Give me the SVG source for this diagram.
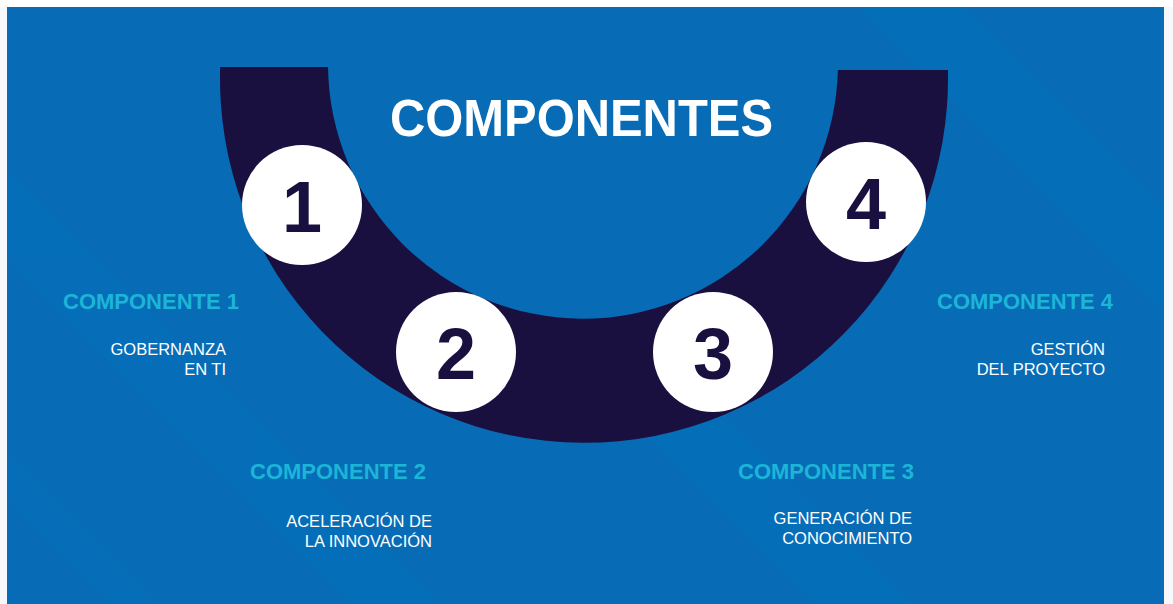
<svg xmlns="http://www.w3.org/2000/svg" width="1173" height="604" viewBox="0 0 1173 604">
  <style>
    .num { font-family: "Liberation Sans", Arial, sans-serif; font-weight: bold; font-size: 72px; fill: #1a1040; text-anchor: middle; }
    .ctitle { font-family: "Liberation Sans", Arial, sans-serif; font-weight: bold; font-size: 22px; fill: #1cb5d8; }
    .csub { font-family: "Liberation Sans", Arial, sans-serif; font-size: 16.5px; fill: #ffffff; text-anchor: end; }
    .disc { fill: #ffffff; }
  </style>
  <rect x="0" y="0" width="1173" height="604" fill="#f7f8fc"/>
  <rect x="0" y="0" width="1173" height="7" fill="#ffffff"/>
  <rect x="7" y="7" width="1157" height="597" fill="#076cb5"/>
  <g id="bands" fill="#0572bc" opacity="0.45">
    <polygon points="7,170 7,260 350,604 440,604"/>
    <polygon points="160,604 7,451 7,500 110,604"/>
    <polygon points="860,7 960,7 1164,211 1164,311"/>
    <polygon points="600,390 700,390 914,604 814,604"/>
  </g>
  <g id="arc">
    <path d="M 220.2 67 L 328 67 A 255 255 0 0 0 837.9 70 L 947.9 70 A 364 364 0 1 1 220.2 67 Z" fill="#1a1040"/>
  </g>
  <g id="title">
    <text x="581.5" y="136" font-family="Liberation Sans, Arial, sans-serif" font-weight="bold" font-size="52" fill="#ffffff" text-anchor="middle" textLength="383" lengthAdjust="spacingAndGlyphs">COMPONENTES</text>
  </g>
  <g id="node1">
    <circle class="disc" cx="302" cy="205" r="60"/>
    <text class="num" x="302" y="232">1</text>
    <text class="ctitle" x="63" y="309">COMPONENTE 1</text>
    <text class="csub" x="226" y="355">GOBERNANZA</text>
    <text class="csub" x="226" y="375">EN TI</text>
  </g>
  <g id="node2">
    <circle class="disc" cx="456" cy="352" r="60"/>
    <text class="num" x="456" y="379">2</text>
    <text class="ctitle" x="250" y="479">COMPONENTE 2</text>
    <text class="csub" x="432" y="527">ACELERACIÓN DE</text>
    <text class="csub" x="432" y="547">LA INNOVACIÓN</text>
  </g>
  <g id="node3">
    <circle class="disc" cx="713" cy="352" r="60"/>
    <text class="num" x="713" y="379">3</text>
    <text class="ctitle" x="738" y="479">COMPONENTE 3</text>
    <text class="csub" x="912" y="524">GENERACIÓN DE</text>
    <text class="csub" x="912" y="544">CONOCIMIENTO</text>
  </g>
  <g id="node4">
    <circle class="disc" cx="866" cy="202" r="60"/>
    <text class="num" x="866" y="229">4</text>
    <text class="ctitle" x="937" y="309">COMPONENTE 4</text>
    <text class="csub" x="1105" y="355">GESTIÓN</text>
    <text class="csub" x="1105" y="375">DEL PROYECTO</text>
  </g>
  <g id="connectors"></g>
</svg>
